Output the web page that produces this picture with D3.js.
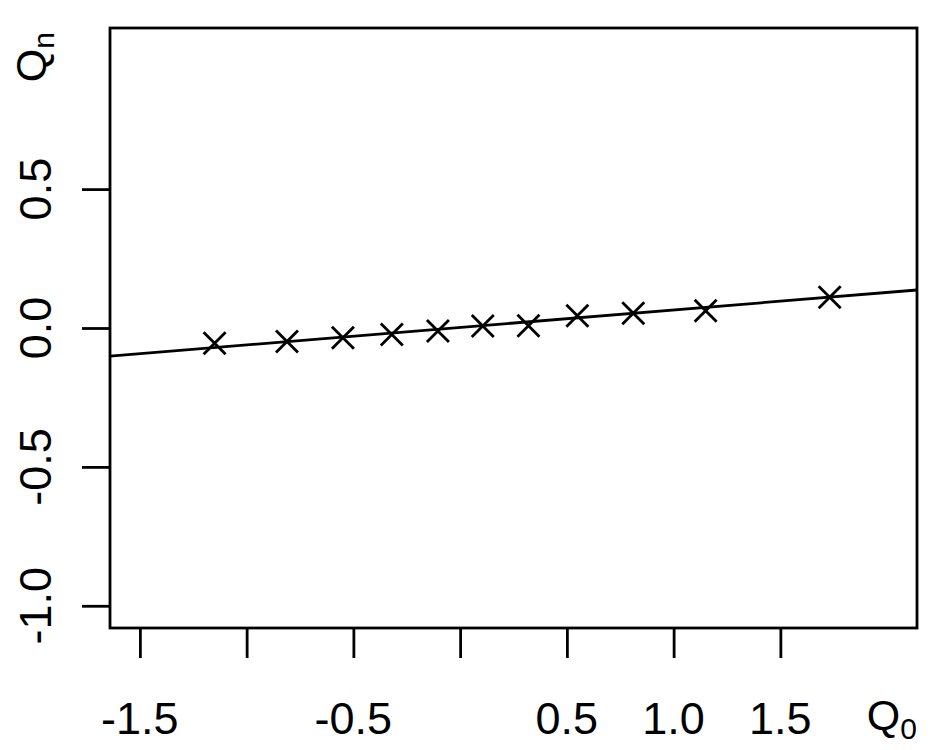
<!DOCTYPE html>
<html>
<head>
<meta charset="utf-8">
<script src="https://cdn.jsdelivr.net/npm/d3@7"></script>
<style>
  html, body { margin: 0; padding: 0; background: #fff; }
  svg { display: block; }
  text { font-family: "Liberation Sans", Arial, Helvetica, sans-serif; fill: #000; }
</style>
</head>
<body>
<svg id="chart" width="945" height="750"></svg>
<script>
// ---- data ----
const q0 = [-1.150, -0.811, -0.549, -0.320, -0.104, 0.106, 0.320, 0.549, 0.811, 1.150, 1.731];
const qn = [-0.055, -0.049, -0.035, -0.023, -0.011, 0.007, 0.008, 0.044, 0.053, 0.062, 0.111];
const lineIntercept = 0.002;
const lineSlope = 0.063;
const xTicks = [-1.5, -1.0, -0.5, 0.0, 0.5, 1.0, 1.5];
const xTickLabels = ["-1.5", "", "-0.5", "", "0.5", "1.0", "1.5"];
const yTicks = [-1.0, -0.5, 0.0, 0.5];
const yTickLabels = ["-1.0", "-0.5", "0.0", "0.5"];
const xDomain = [-1.64, 2.14];
const yDomain = [-1.08, 1.08];

// ---- layout ----
const plot = { left: 110, right: 917, top: 28, bottom: 628 };
const svg = d3.select("#chart");
const x = d3.scaleLinear().domain(xDomain).range([plot.left, plot.right]);
const y = d3.scaleLinear().domain(yDomain).range([plot.bottom, plot.top]);
const sw = 2.8;
const fontSize = 45;

// clip
svg.append("clipPath").attr("id", "clip")
  .append("rect").attr("x", plot.left).attr("y", plot.top)
  .attr("width", plot.right - plot.left).attr("height", plot.bottom - plot.top);

// fitted line
const xl = xDomain;
svg.append("line")
  .attr("clip-path", "url(#clip)")
  .attr("x1", x(xl[0])).attr("y1", y(lineIntercept + lineSlope * xl[0]))
  .attr("x2", x(xl[1])).attr("y2", y(lineIntercept + lineSlope * xl[1]))
  .attr("stroke", "#000").attr("stroke-width", sw);

// points as X marks
const m = 11;
svg.append("g").selectAll("path").data(q0.map((v, i) => [v, qn[i]])).join("path")
  .attr("d", d => {
    const cx = x(d[0]), cy = y(d[1]);
    return `M${cx - m},${cy - m}L${cx + m},${cy + m}M${cx - m},${cy + m}L${cx + m},${cy - m}`;
  })
  .attr("stroke", "#000").attr("stroke-width", sw).attr("fill", "none");

// box
svg.append("rect")
  .attr("x", plot.left).attr("y", plot.top)
  .attr("width", plot.right - plot.left).attr("height", plot.bottom - plot.top)
  .attr("fill", "none").attr("stroke", "#000").attr("stroke-width", sw);

// x axis ticks
const xAxis = d3.axisBottom(x).tickValues(xTicks).tickSize(30).tickFormat("");
const gx = svg.append("g").attr("transform", `translate(0,${plot.bottom})`).call(xAxis);
gx.select(".domain").remove();
gx.selectAll(".tick line").attr("stroke", "#000").attr("stroke-width", sw);

svg.append("g").selectAll("text").data(xTicks).join("text")
  .attr("x", d => x(d)).attr("y", 734)
  .attr("text-anchor", "middle").attr("font-size", fontSize)
  .text((d, i) => xTickLabels[i]);

// y axis ticks
const yAxis = d3.axisLeft(y).tickValues(yTicks).tickSize(28).tickFormat("");
const gy = svg.append("g").attr("transform", `translate(${plot.left},0)`).call(yAxis);
gy.select(".domain").remove();
gy.selectAll(".tick line").attr("stroke", "#000").attr("stroke-width", sw);

svg.append("g").selectAll("text").data(yTicks).join("text")
  .attr("transform", d => `translate(51,${y(d)}) rotate(-90)`)
  .attr("text-anchor", "middle").attr("font-size", fontSize)
  .text((d, i) => yTickLabels[i]);

// axis titles
const tx = svg.append("text").attr("x", 917).attr("y", 730).attr("text-anchor", "end");
tx.append("tspan").attr("font-size", 43).text("Q");
tx.append("tspan").attr("font-size", 30).attr("dy", 9).text("0");

const ty = svg.append("text").attr("transform", "translate(46,32) rotate(-90)").attr("text-anchor", "end");
ty.append("tspan").attr("font-size", 43).text("Q");
ty.append("tspan").attr("font-size", 30).attr("dy", 8).text("n");
</script>
</body>
</html>
